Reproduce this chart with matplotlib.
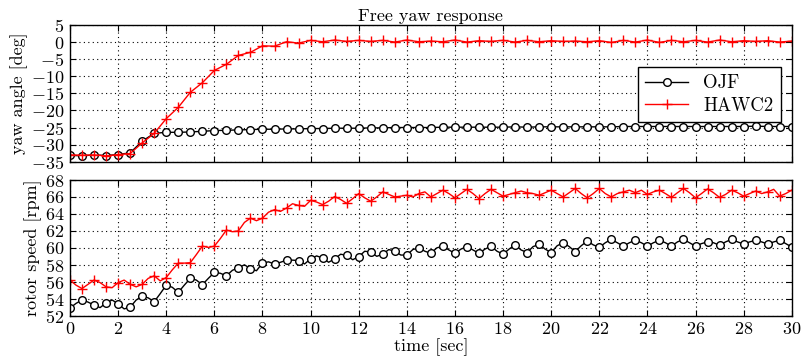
import numpy as np
import matplotlib
matplotlib.use("Agg")
import matplotlib.pyplot as plt

plt.rcParams["font.family"] = "cmr10"
plt.rcParams["mathtext.fontset"] = "cm"
plt.rcParams["axes.formatter.use_mathtext"] = True
plt.rcParams["font.size"] = 13

# ---- yaw angle, sampled every 0.5 s ----
t_yaw = np.arange(61) * 0.5
yaw_ojf = [-33.1, -33.3, -33.0, -33.2, -32.9, -32.4, -29.0, -26.7, -26.4, -26.4,
           -26.3, -26.1, -25.9, -25.8, -25.7, -25.6, -25.5, -25.5, -25.4, -25.4,
           -25.3, -25.3, -25.2, -25.2, -25.2, -25.1, -25.1, -25.0, -25.0, -25.0,
           -25.0, -24.9, -24.9, -24.9, -24.9, -24.9, -24.9, -24.8, -24.9, -24.8,
           -24.8, -24.8, -24.8, -24.8, -24.8, -24.8, -24.7, -24.7, -24.7, -24.7,
           -24.7, -24.7, -24.7, -24.7, -24.7, -24.7, -24.7, -24.6, -24.7, -24.7,
           -24.7]
yaw_hawc2 = [-33.0, -33.1, -33.0, -33.3, -32.9, -32.6, -29.5, -26.7, -22.4, -19.1,
             -14.7, -11.9, -8.3, -6.5, -3.9, -3.0, -1.1, -1.2, 0.1, -0.3,
             0.5, 0.1, 0.6, 0.2, 0.5, 0.2, 0.5, 0.0, 0.6, 0.1,
             0.3, 0.1, 0.6, 0.0, 0.4, 0.2, 0.5, 0.0, 0.5, 0.1,
             0.4, 0.2, 0.3, 0.1, 0.4, -0.1, 0.5, 0.0, 0.6, -0.1,
             0.5, 0.1, 0.5, 0.0, 0.6, 0.1, 0.4, 0.2, 0.4, 0.0,
             0.3]

# ---- rotor speed, sampled every 0.25 s ----
t_rpm = np.arange(121) * 0.25
rpm_ojf = [52.9, 53.45, 53.85, 53.6, 53.25, 52.95, 53.5, 53.85,
           53.4, 52.8, 53.0, 53.85, 54.3, 54.1, 53.65, 54.6,
           55.6, 55.35, 54.75, 55.6, 56.4, 56.2, 55.65, 56.4,
           57.1, 57.0, 56.7, 57.35, 57.65, 58.0, 57.55, 57.3,
           58.2, 58.35, 58.1, 58.3, 58.55, 58.55, 58.5, 58.1,
           58.7, 59.05, 58.8, 58.3, 58.7, 59.25, 59.1, 58.6,
           58.95, 59.6, 59.5, 59.0, 59.25, 59.8, 59.6, 59.15,
           59.15, 59.8, 60.0, 59.6, 59.35, 60.0, 60.2, 59.75,
           59.35, 59.85, 60.15, 59.75, 59.35, 59.85, 60.2, 59.6,
           59.25, 59.85, 60.35, 59.75, 59.45, 60.15, 60.4, 59.85,
           59.45, 60.25, 60.6, 60.15, 59.55, 60.25, 60.8, 60.35,
           60.05, 60.6, 61.0, 60.6, 60.2, 60.6, 60.9, 60.6,
           60.2, 60.6, 60.9, 60.6, 60.2, 60.7, 61.0, 60.6,
           60.2, 60.5, 60.7, 60.6, 60.3, 60.7, 61.0, 60.7,
           60.45, 60.7, 60.9, 60.7, 60.45, 60.7, 60.9, 60.5,
           60.1]
rpm_hawc2 = [56.2, 55.6, 55.2, 55.7, 56.2, 55.9, 55.4, 55.3,
             55.9, 56.2, 55.7, 55.4, 55.7, 56.4, 56.7, 56.1,
             56.5, 57.4, 58.2, 58.2, 58.25, 59.2, 60.2, 60.05,
             60.2, 61.1, 62.1, 61.9, 62.0, 63.0, 63.5, 63.2,
             63.5, 64.2, 64.5, 64.3, 64.7, 65.2, 65.0, 64.9,
             65.6, 65.4, 65.1, 65.5, 66.05, 65.7, 65.25, 65.8,
             66.4, 65.9, 65.5, 66.0, 66.6, 66.3, 66.0, 66.1,
             66.2, 66.0, 66.4, 66.6, 66.0, 66.4, 66.8, 66.4,
             65.9, 66.4, 66.9, 66.4, 65.8, 66.4, 66.9, 66.5,
             66.1, 66.3, 66.5, 66.7, 66.5, 66.4, 66.2, 66.5,
             66.8, 66.4, 66.0, 66.5, 67.0, 66.4, 65.9, 66.4,
             67.0, 66.4, 66.0, 66.4, 66.6, 66.8, 66.5, 66.8,
             66.3, 66.6, 66.8, 66.4, 65.95, 66.5, 67.0, 66.5,
             65.9, 66.4, 66.95, 66.5, 65.95, 66.3, 66.8, 66.5,
             66.1, 66.4, 66.7, 66.4, 66.6, 66.9, 66.1, 66.4,
             66.8]

series_names = ["OJF", "HAWC2"]
x_ticks = np.arange(0, 31, 2)
yaw_ticks = np.arange(-35, 6, 5)
rpm_ticks = np.arange(52, 69, 2)

fig = plt.figure(figsize=(8.02, 3.58), dpi=100)
ax1 = fig.add_axes([0.0873, 0.5483, 0.8999, 0.3819])
ax2 = fig.add_axes([0.0873, 0.1182, 0.8999, 0.3790])

ojf_style = dict(color="black", lw=1.0, marker="o", ms=5.5, mfc="white",
                 mec="black", mew=1.0)
hawc_style = dict(color="red", lw=1.0, marker="+", ms=7, mew=1.0)

ax1.plot(t_yaw, yaw_ojf, label=series_names[0], **ojf_style)
ax1.plot(t_yaw, yaw_hawc2, label=series_names[1], **hawc_style)
ax2.plot(t_rpm, rpm_ojf, markevery=2, **ojf_style)
ax2.plot(t_rpm, rpm_hawc2, markevery=2, **hawc_style)

for ax in (ax1, ax2):
    ax.set_xlim(0, 30)
    ax.set_xticks(x_ticks)
    ax.grid(True, color="black", linestyle=(0, (1, 3)), linewidth=0.8)
    ax.tick_params(direction="in", top=True, right=True, length=4, width=0.8,
                   labelsize=13, pad=4)
    for s in ax.spines.values():
        s.set_linewidth(1.0)

ax1.set_ylim(-35, 5)
ax1.set_yticks(yaw_ticks)
ax1.tick_params(labelbottom=False)
ax1.set_ylabel("yaw angle [deg]", fontsize=13, labelpad=2)
ax1.set_title("Free yaw response", fontsize=13, pad=3)

ax2.set_ylim(52, 68)
ax2.set_yticks(rpm_ticks)
ax2.set_ylabel("rotor speed [rpm]", fontsize=13, labelpad=2)
ax2.set_xlabel("time [sec]", fontsize=13, labelpad=1)

leg = ax1.legend(loc="upper right", bbox_to_anchor=(0.985, 0.693), numpoints=1,
                 fancybox=False, framealpha=1, edgecolor="black",
                 handlelength=2.3, fontsize=13.5, borderpad=0.4,
                 labelspacing=0.25, handletextpad=0.8, borderaxespad=0.0)
leg.get_frame().set_linewidth(1.0)

fig.savefig("out.png", dpi=100)
